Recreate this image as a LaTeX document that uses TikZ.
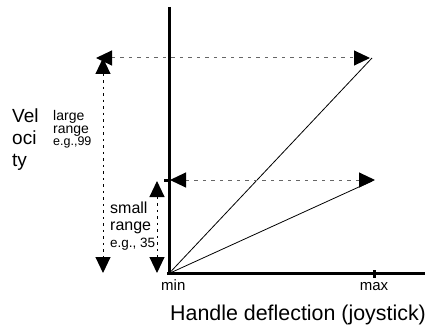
\documentclass[tikz,border=0pt]{standalone}
\usepackage{fontspec}
\setmainfont{Liberation Sans}
\usetikzlibrary{arrows.meta, positioning}

\begin{document}
\begin{tikzpicture}[
    x=1pt, y=-1pt,
    axis/.style={line width=3pt},
    curve/.style={line width=0.8pt},
    hspan/.style={black!60, line width=1pt, dash pattern=on 3.5pt off 5pt,
        {Triangle[length=16pt,width=15pt,color=black]}-{Triangle[length=16pt,width=15pt,color=black]}},
    vspan/.style={black, line width=1pt, dash pattern=on 2.5pt off 4pt,
        {Triangle[length=16pt,width=15pt]}-{Triangle[length=16pt,width=15pt]}},
    lbl/.style={inner sep=0pt, align=left, anchor=base west}]

\useasboundingbox (0,0) rectangle (425,326);

% Axes
\coordinate (O) at (169,273.5);
\coordinate (ytop) at (169,7);
\coordinate (xend) at (425,273.5);
\draw[axis] (ytop) -- (169,275);
\draw[axis] (167,273.5) -- (xend);
\coordinate (maxtick) at (374,273.5);
\draw[axis] ([yshift=-4pt]maxtick) -- ([yshift=4pt]maxtick);
\draw[axis] (164,180) -- (171,180);

% Characteristic lines
\coordinate (hi) at (372,58);
\coordinate (lo) at (372,181);
\draw[curve] (O) -- (hi);
\draw[curve] (O) -- (lo);

% Ranges
\coordinate (hileft) at (96,58);
\coordinate (hiright) at (370,58);
\coordinate (loleft) at (170,180);
\coordinate (loright) at (375,180);
\draw[hspan] (hileft) -- (hiright);
\draw[hspan] (loleft) -- (loright);
\coordinate (bigtop) at (103,58);
\coordinate (bigbot) at (103,273);
\coordinate (smalltop) at (157,181);
\coordinate (smallbot) at (157,273);
\draw[vspan] (bigtop) -- (bigbot);
\draw[vspan] (smalltop) -- (smallbot);

% Labels (base = baseline of last line)
\node[lbl, font=\fontsize{19}{22}\selectfont] (vel) at (12,166)
    {Vel\\oci\\ty};
\node[lbl, font=\fontsize{14}{12.5}\selectfont] (large) at (53,145.5)
    {large\\range\\{\fontsize{12.5}{12}\selectfont e.g.,99}};
\node[lbl, font=\fontsize{16}{17}\selectfont] (small) at (110,247)
    {small\\range\\{\fontsize{13.5}{15.5}\selectfont e.g., 35}};
\node[lbl, font=\fontsize{15}{15}\selectfont] (min) at (161,290) {min};
\node[lbl, anchor=base, font=\fontsize{15}{15}\selectfont] (max) at (maxtick |- 0,290) {max};
\node[lbl, font=\fontsize{21.4}{21.4}\selectfont] (title) at (170,320) {Handle deflection (joystick)};
\end{tikzpicture}
\end{document}
